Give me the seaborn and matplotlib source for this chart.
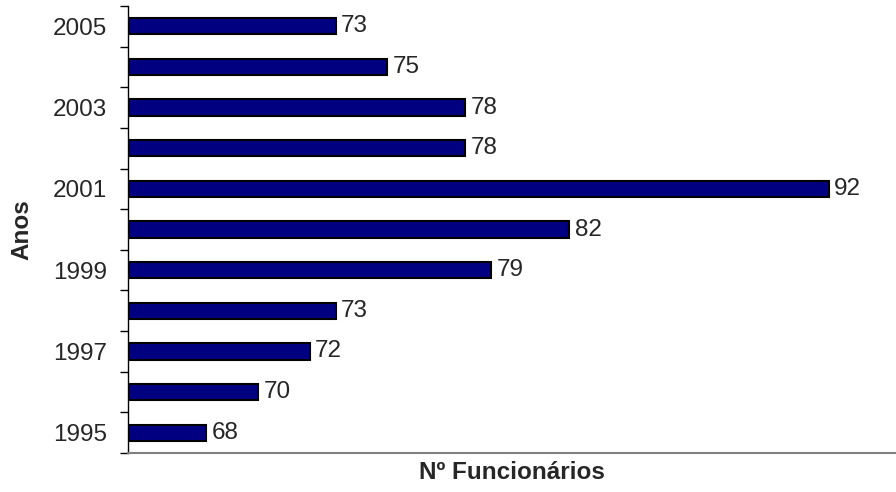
import matplotlib
matplotlib.use("Agg")
import matplotlib.pyplot as plt
import seaborn as sns
import pandas as pd

# data
anos = ['1995', '1996', '1997', '1998', '1999', '2000', '2001', '2002', '2003', '2004', '2005']
funcionarios = [68, 70, 72, 73, 79, 82, 92, 78, 78, 75, 73]

df = pd.DataFrame({'Ano': anos, 'Funcionarios': funcionarios})
ordem = anos[::-1]  # 2005 at the top

sns.set_style('white')
plt.rcParams['font.family'] = ['Liberation Sans', 'DejaVu Sans']
fs = 17.5

fig = plt.figure(figsize=(8.96, 4.92), dpi=100)
ax = fig.add_axes([128 / 896, 39 / 492, 1 - 128 / 896, 447 / 492])

sns.barplot(data=df, y='Ano', x='Funcionarios', order=ordem, orient='h',
            color='#000080', saturation=1, width=0.4,
            edgecolor='black', linewidth=1.5, ax=ax)

for c in ax.containers:
    ax.bar_label(c, padding=4, fontsize=fs)

ax.set_xlim(65, 94.6)
ax.set_ylim(10.5, -0.5)

# only every other year is labelled
ax.set_yticks(range(len(ordem)))
ax.set_yticklabels([a if int(a) % 2 == 1 else '' for a in ordem], fontsize=fs)
ax.set_yticks([i - 0.5 for i in range(len(ordem) + 1)], minor=True)
ax.tick_params(axis='y', which='major', length=0, pad=15)
ax.tick_params(axis='y', which='minor', left=True, length=6, width=1, color='black', direction='out')
ax.set_xticks([])

ax.set_ylabel('Anos', fontsize=fs, fontweight='bold', labelpad=14)
ax.set_xlabel('Nº Funcionários', fontsize=fs, fontweight='bold', labelpad=6)

for s in ['top', 'right']:
    ax.spines[s].set_visible(False)
ax.spines['left'].set_color('black')
ax.spines['left'].set_linewidth(1)
ax.spines['bottom'].set_color('#808080')
ax.spines['bottom'].set_linewidth(1.5)

fig.savefig('out.png', dpi=100)
